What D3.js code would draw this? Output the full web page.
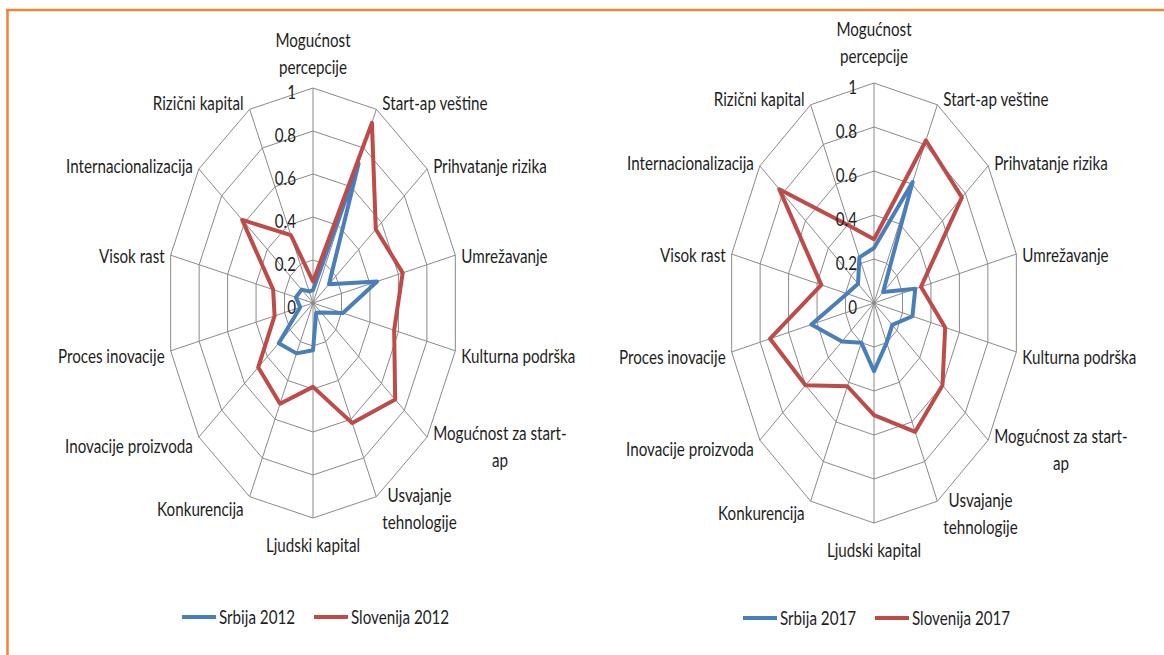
<!DOCTYPE html>
<html>
<head>
<meta charset="utf-8">
<script src="https://cdn.jsdelivr.net/npm/d3@7"></script>
<style>
  html, body { margin: 0; padding: 0; background: #ffffff; }
  svg text { font-family: Lato, "Open Sans", sans-serif; fill: #1e1e1e; }
</style>
</head>
<body>
<svg id="chart" width="1164" height="655"></svg>
<script>
// ---------------- data ----------------
const categories = [
  "Mogućnost\npercepcije",
  "Start-ap veštine",
  "Prihvatanje rizika",
  "Umrežavanje",
  "Kulturna podrška",
  "Mogućnost za start-\nap",
  "Usvajanje\ntehnologije",
  "Ljudski kapital",
  "Konkurencija",
  "Inovacije proizvoda",
  "Proces inovacije",
  "Visok rast",
  "Internacionalizacija",
  "Rizični kapital"
];
const tickValues = [0, 0.2, 0.4, 0.6, 0.8, 1];
const tickLabels = ["0", "0.2", "0.4", "0.6", "0.8", "1"];

const srbija2012    = [0.06, 0.72, 0.14, 0.45, 0.21, 0.07, 0.05, 0.22, 0.26, 0.30, 0.09, 0.12, 0.10, 0.06];
const slovenija2012 = [0.10, 0.93, 0.55, 0.63, 0.57, 0.72, 0.62, 0.39, 0.52, 0.48, 0.27, 0.28, 0.62, 0.35];
const srbija2017    = [0.25, 0.61, 0.08, 0.29, 0.27, 0.16, 0.20, 0.31, 0.20, 0.28, 0.44, 0.19, 0.14, 0.23];
const slovenija2017 = [0.29, 0.82, 0.77, 0.33, 0.50, 0.60, 0.65, 0.51, 0.42, 0.60, 0.73, 0.37, 0.83, 0.39];

const seriesNames2012 = ["Srbija 2012", "Slovenija 2012"];
const seriesNames2017 = ["Srbija 2017", "Slovenija 2017"];

// ---------------- style ----------------
const BLUE = "#4a7ebb", RED = "#be4b48", GRID = "#8a8a8a";
const FONT = 20, SX = 0.76, LINE_H = 27;

const svg = d3.select("#chart");

// frame
svg.append("line").attr("x1", 6).attr("x2", 1164).attr("y1", 10).attr("y2", 10)
  .attr("stroke", "#f08537").attr("stroke-width", 2.5);
svg.append("line").attr("x1", 7.5).attr("x2", 7.5).attr("y1", 9).attr("y2", 655)
  .attr("stroke", "#f08537").attr("stroke-width", 2.5);

function squashedText(g, x, y, lines, anchor) {
  const t = g.append("text")
    .attr("transform", `translate(${x},${y}) scale(${SX},1)`)
    .attr("font-size", FONT)
    .attr("text-anchor", anchor);
  lines.forEach((ln, i) => {
    t.append("tspan").attr("x", 0).attr("dy", i === 0 ? 0 : LINE_H).text(ln);
  });
  return t;
}

function drawRadar(cfg) {
  const g = svg.append("g");
  const n = categories.length;
  const angle = d3.scaleLinear().domain([0, n]).range([0, 2 * Math.PI]);
  const rX = d3.scaleLinear().domain([0, 1]).range([0, cfg.rx]);
  const rY = d3.scaleLinear().domain([0, 1]).range([0, cfg.ry]);
  const px = (k, v) => cfg.cx + rX(v) * Math.sin(angle(k));
  const py = (k, v) => cfg.cy - rY(v) * Math.cos(angle(k));
  const idx = d3.range(n);

  const ringLine = d3.line().curve(d3.curveLinearClosed);
  // rings
  tickValues.filter(v => v > 0).forEach(v => {
    g.append("path")
      .attr("d", ringLine(idx.map(k => [px(k, v), py(k, v)])))
      .attr("fill", "none").attr("stroke", GRID).attr("stroke-width", 1);
  });
  // spokes
  idx.forEach(k => {
    g.append("line")
      .attr("x1", cfg.cx).attr("y1", cfg.cy)
      .attr("x2", px(k, 1)).attr("y2", py(k, 1))
      .attr("stroke", GRID).attr("stroke-width", 1);
  });

  // series
  const serLine = d3.line()
    .x((d, k) => px(k, d))
    .y((d, k) => py(k, d))
    .curve(d3.curveLinearClosed);
  cfg.series.forEach(s => {
    g.append("path")
      .attr("d", serLine(s.values))
      .attr("fill", "none").attr("stroke", s.color)
      .attr("stroke-width", 4).attr("stroke-linejoin", "round");
  });

  // tick labels
  tickValues.forEach((v, i) => {
    squashedText(g, cfg.cx - 17, py(0, v) + 11, [tickLabels[i]], "end");
  });

  // category labels
  idx.forEach(k => {
    const a = angle(k), s = Math.sin(a), c = Math.cos(a);
    const vx = px(k, 1), vy = py(k, 1);
    const lines = categories[k].split("\n");
    const m = lines.length;
    if (Math.abs(s) < 0.01) {
      const y0 = c > 0 ? vy - cfg.topGap - (m - 1) * LINE_H : vy + 34;
      squashedText(g, vx, y0, lines, "middle");
    } else {
      const yc = vy + 3 - 10 * c;
      const y0 = yc - (m - 1) * LINE_H / 2 + 7;
      const t = squashedText(g, 0, y0, lines, "middle");
      let w = 0;
      t.selectAll("tspan").each(function () { w = Math.max(w, this.getComputedTextLength()); });
      const half = w * SX / 2;
      const x = s > 0 ? vx + 6 + half : vx - 6 - half;
      t.attr("transform", `translate(${x},${y0}) scale(${SX},1)`);
    }
  });

  // legend
  const ly = cfg.legendY;
  cfg.series.forEach((s, i) => {
    const x0 = cfg.cx + (i === 0 ? -131 : 1);
    g.append("line").attr("x1", x0).attr("x2", x0 + 34).attr("y1", ly).attr("y2", ly)
      .attr("stroke", s.color).attr("stroke-width", 4);
    squashedText(g, x0 + 37, ly + 7, [s.name], "start");
  });
}

drawRadar({
  cx: 313, cy: 303, rx: 146, ry: 215, legendY: 617, topGap: 14,
  series: [
    { name: seriesNames2012[0], values: srbija2012, color: BLUE },
    { name: seriesNames2012[1], values: slovenija2012, color: RED }
  ]
});
drawRadar({
  cx: 874, cy: 303, rx: 146, ry: 220, legendY: 618, topGap: 20,
  series: [
    { name: seriesNames2017[0], values: srbija2017, color: BLUE },
    { name: seriesNames2017[1], values: slovenija2017, color: RED }
  ]
});
</script>
</body>
</html>
